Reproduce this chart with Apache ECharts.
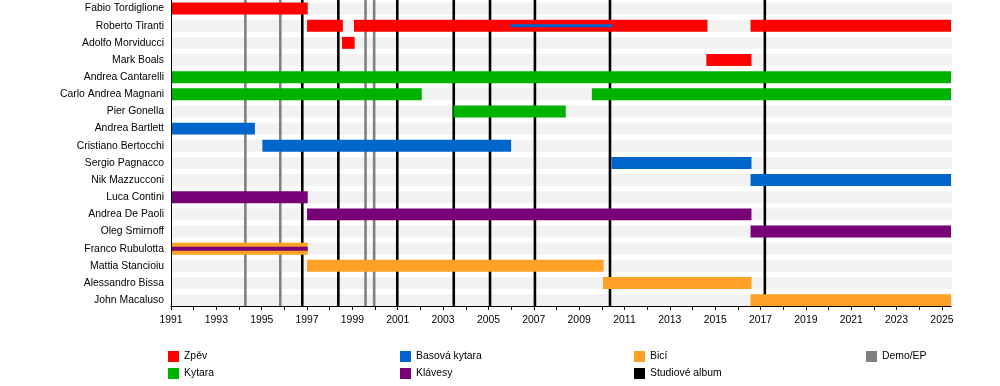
<!DOCTYPE html>
<html>
<head>
<meta charset="utf-8">
<script src="https://cdn.jsdelivr.net/npm/echarts@6/dist/echarts.min.js"></script>
<style>
  html, body { margin: 0; padding: 0; background: #fff; }
  #chart { width: 1000px; height: 386px; }
</style>
</head>
<body>
<div id="chart"></div>
<script>
// ---- data ----
const members = [
  'Fabio Tordiglione', 'Roberto Tiranti', 'Adolfo Morviducci', 'Mark Boals',
  'Andrea Cantarelli', 'Carlo Andrea Magnani', 'Pier Gonella', 'Andrea Bartlett',
  'Cristiano Bertocchi', 'Sergio Pagnacco', 'Nik Mazzucconi', 'Luca Contini',
  'Andrea De Paoli', 'Oleg Smirnoff', 'Franco Rubulotta', 'Mattia Stancioiu',
  'Alessandro Bissa', 'John Macaluso'
];
const END = 2025.4;
const vocals = [
  ['Fabio Tordiglione', 1991, 1997.03],
  ['Roberto Tiranti', 1997.0, 1998.58],
  ['Roberto Tiranti', 1999.07, 2014.66],
  ['Roberto Tiranti', 2016.56, END],
  ['Adolfo Morviducci', 1998.54, 1999.1],
  ['Mark Boals', 2014.61, 2016.6]
];
const guitar = [
  ['Andrea Cantarelli', 1991, END],
  ['Carlo Andrea Magnani', 1991, 2002.06],
  ['Carlo Andrea Magnani', 2009.56, END],
  ['Pier Gonella', 2003.46, 2008.41]
];
const bass = [
  ['Andrea Bartlett', 1991, 1994.7],
  ['Cristiano Bertocchi', 1995.03, 2006.0],
  ['Sergio Pagnacco', 2010.42, 2016.6],
  ['Nik Mazzucconi', 2016.56, END]
];
const bassSecondary = [
  ['Roberto Tiranti', 2005.97, 2010.46]
];
const keyboards = [
  ['Luca Contini', 1991, 1997.03],
  ['Andrea De Paoli', 1997.0, 2016.6],
  ['Oleg Smirnoff', 2016.56, END]
];
const keyboardsSecondary = [
  ['Franco Rubulotta', 1991, 1997.03]
];
const drums = [
  ['Franco Rubulotta', 1991, 1997.03],
  ['Mattia Stancioiu', 1997.0, 2010.08],
  ['Alessandro Bissa', 2010.05, 2016.6],
  ['John Macaluso', 2016.56, END]
];
const studioAlbums = [1996.79, 1998.38, 2000.98, 2003.47, 2005.07, 2007.05, 2010.36, 2017.19];
const demos = [1994.28, 1995.82, 1999.58, 1999.96];
const yearMin = 1991;
const tickYears = [1991, 1992, 1993, 1994, 1995, 1996, 1997, 1998, 1999, 2000, 2001, 2002,
  2003, 2004, 2005, 2006, 2007, 2008, 2009, 2010, 2011, 2012, 2013, 2014, 2015, 2016,
  2017, 2018, 2019, 2020, 2021, 2022, 2023, 2024, 2025];
const labelYears = [1991, 1993, 1995, 1997, 1999, 2001, 2003, 2005, 2007, 2009, 2011,
  2013, 2015, 2017, 2019, 2021, 2023, 2025];

// ---- styles ----
const COLORS = {
  'Zpěv': '#ff0000',
  'Kytara': '#00b200',
  'Basová kytara': '#0066cc',
  'Klávesy': '#770077',
  'Bicí': '#ffa126',
  'Studiové album': '#000000',
  'Demo/EP': '#808080'
};
const FONT = '"Liberation Sans", Arial, sans-serif';
const FS = 10.4;
const BAR_RATIO = 12 / 17.25;
const THIN = { 'Basová kytara': 3, 'Klávesy': 4 };

function toData(arr) {
  return arr.map(r => [r[1], r[2], members.indexOf(r[0])]);
}

function barRender(color, thickPx) {
  return function (params, api) {
    const s = api.coord([api.value(0), api.value(2)]);
    const e = api.coord([api.value(1), api.value(2)]);
    const band = api.size([0, 1])[1];
    const h = thickPx ? thickPx : band * BAR_RATIO;
    return {
      type: 'rect',
      shape: { x: s[0], y: s[1] - h / 2, width: e[0] - s[0], height: h },
      style: { fill: color }
    };
  };
}

function lineRender(color, width) {
  return function (params, api) {
    const p = api.coord([api.value(0), 0]);
    const last = api.coord([api.value(0), members.length - 1]);
    const band = api.size([0, 1])[1];
    const bottom = last[1] + band * BAR_RATIO / 2;
    return {
      type: 'line',
      shape: { x1: p[0], y1: 0, x2: p[0], y2: bottom },
      style: { stroke: color, lineWidth: width }
    };
  };
}

function barSeries(name, arr, thickPx) {
  return {
    name: name,
    type: 'custom',
    renderItem: barRender(COLORS[name], thickPx),
    encode: { x: [0, 1], y: 2 },
    data: toData(arr),
    itemStyle: { color: COLORS[name] },
    clip: false,
    silent: true,
    z: thickPx ? 4 : 3
  };
}

const stripeData = members.map((m, i) => [yearMin, END + 0.05, i]);

const series = [
  {
    name: 'stripes',
    type: 'custom',
    renderItem: barRender('#f2f2f2'),
    encode: { x: [0, 1], y: 2 },
    data: stripeData,
    silent: true,
    clip: false,
    z: 1
  },
  {
    name: 'Demo/EP',
    type: 'custom',
    renderItem: lineRender(COLORS['Demo/EP'], 2.6),
    encode: { x: 0, y: 1 },
    data: demos.map(d => [d, 0]),
    itemStyle: { color: COLORS['Demo/EP'] },
    silent: true,
    clip: false,
    z: 2
  },
  {
    name: 'Studiové album',
    type: 'custom',
    renderItem: lineRender(COLORS['Studiové album'], 2.6),
    encode: { x: 0, y: 1 },
    data: studioAlbums.map(d => [d, 0]),
    itemStyle: { color: COLORS['Studiové album'] },
    silent: true,
    clip: false,
    z: 2
  },
  barSeries('Zpěv', vocals),
  barSeries('Kytara', guitar),
  barSeries('Basová kytara', bass),
  barSeries('Klávesy', keyboards),
  barSeries('Bicí', drums),
  barSeries('Basová kytara', bassSecondary, THIN['Basová kytara']),
  barSeries('Klávesy', keyboardsSecondary, THIN['Klávesy'])
];

function legendBlock(names, left) {
  return {
    orient: 'vertical',
    left: left,
    top: 351,
    itemWidth: 11,
    itemHeight: 11,
    itemGap: 6,
    selectedMode: false,
    textStyle: { fontFamily: FONT, fontSize: FS, color: '#000' },
    padding: 0,
    data: names.map(n => ({ name: n, icon: 'rect', itemStyle: { color: COLORS[n] } }))
  };
}

const chart = echarts.init(document.getElementById('chart'), null, { renderer: 'canvas' });
chart.setOption({
  animation: false,
  backgroundColor: '#ffffff',
  grid: { left: 171, width: 780, top: -1.8, height: 310.5, containLabel: false },
  xAxis: {
    type: 'value',
    min: yearMin,
    max: END,
    offset: -2.7,
    z: 10,
    axisLine: { show: true, lineStyle: { color: '#000', width: 1 } },
    axisTick: { show: true, length: 4, lineStyle: { color: '#000' }, customValues: tickYears },
    axisLabel: {
      fontFamily: FONT, fontSize: FS, color: '#000', margin: 9,
      customValues: labelYears,
      formatter: v => String(v)
    },
    splitLine: { show: false }
  },
  yAxis: {
    type: 'category',
    data: members,
    inverse: true,
    z: 10,
    axisLine: { show: true, lineStyle: { color: '#000', width: 1 } },
    axisTick: { show: false },
    axisLabel: { fontFamily: FONT, fontSize: FS, color: '#000', margin: 7, interval: 0 },
    splitLine: { show: false }
  },
  legend: [
    legendBlock(['Zpěv', 'Kytara'], 168),
    legendBlock(['Basová kytara', 'Klávesy'], 400),
    legendBlock(['Bicí', 'Studiové album'], 634),
    legendBlock(['Demo/EP'], 866)
  ],
  series: series
});
</script>
</body>
</html>
